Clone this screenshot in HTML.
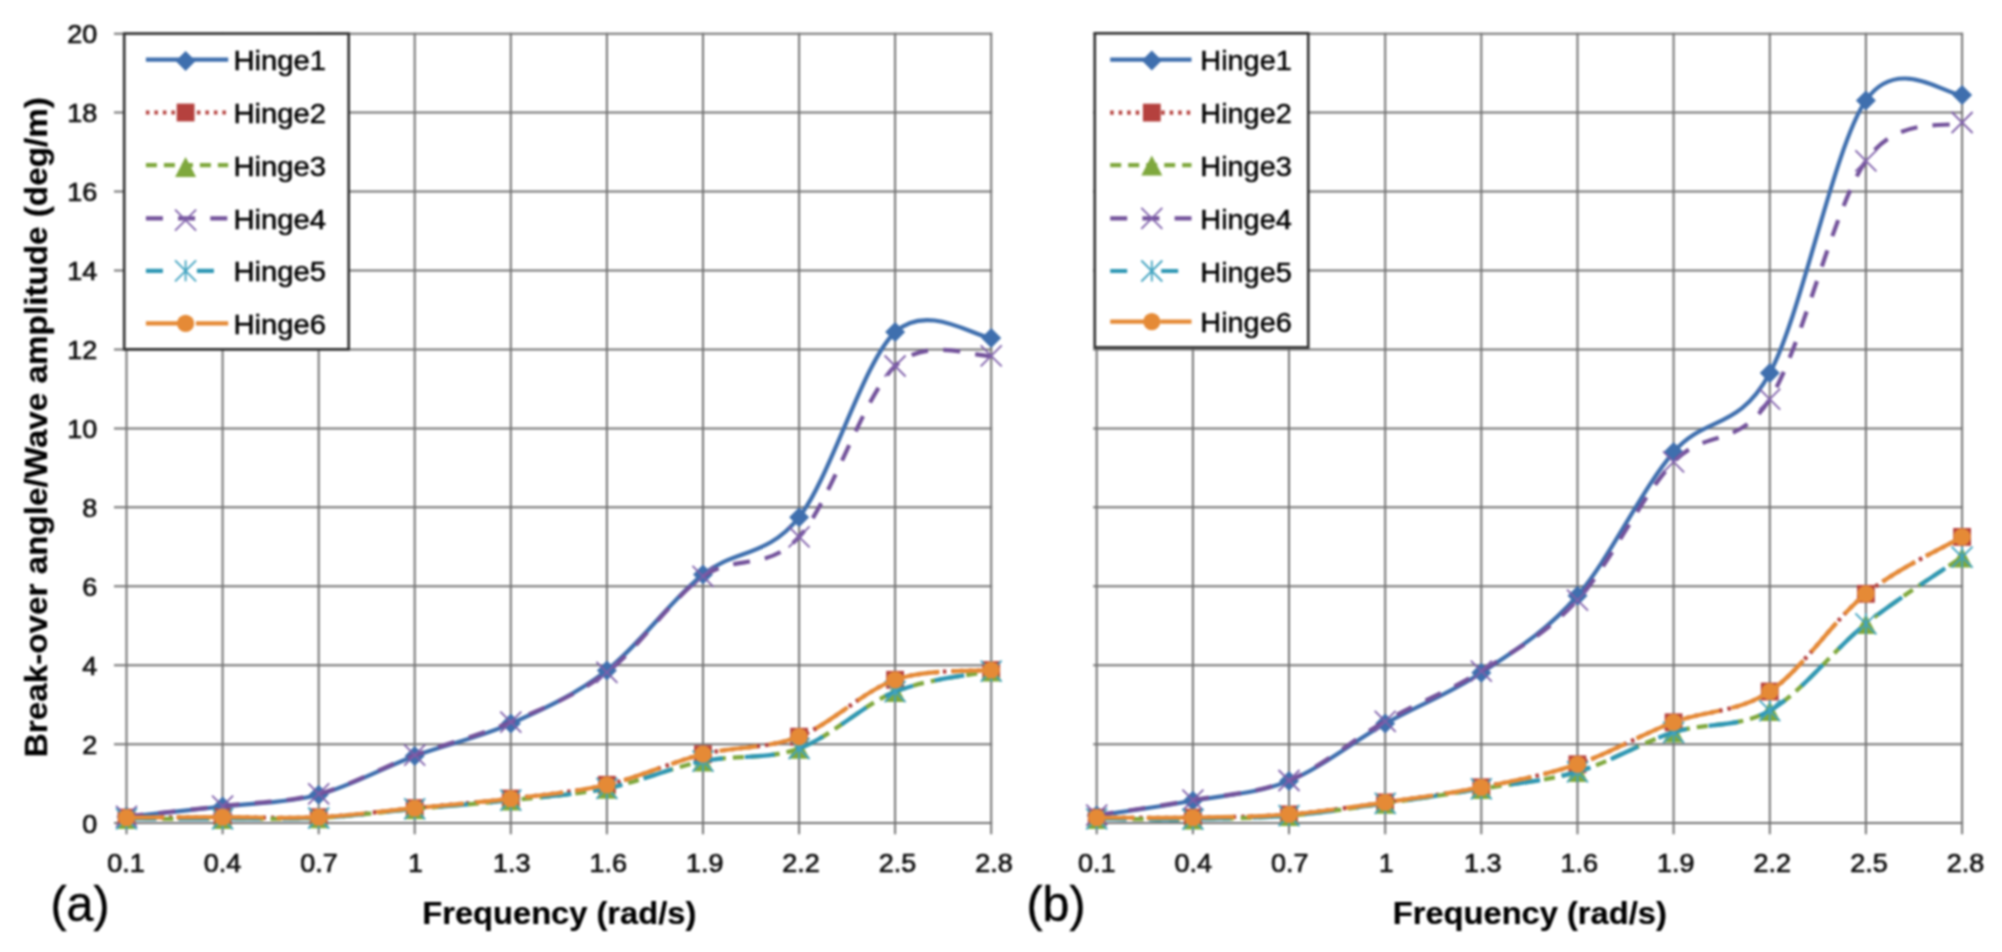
<!DOCTYPE html>
<html lang="en"><head><meta charset="utf-8"><title>Break-over angle vs frequency</title>
<style>
html,body{margin:0;padding:0;background:#fff;}
body{width:2002px;height:952px;overflow:hidden;}
svg{display:block;filter:blur(1px);}
</style></head><body>
<svg width="2002" height="952" viewBox="0 0 2002 952">
<rect width="2002" height="952" fill="#fff"/>
<g stroke="#747474" stroke-width="2" fill="none">
<path d="M114.0 823.1H992.2"/>
<path d="M114.0 744.2H992.2"/>
<path d="M114.0 665.2H992.2"/>
<path d="M114.0 586.3H992.2"/>
<path d="M114.0 507.3H992.2"/>
<path d="M114.0 428.4H992.2"/>
<path d="M114.0 349.5H992.2"/>
<path d="M114.0 270.5H992.2"/>
<path d="M114.0 191.6H992.2"/>
<path d="M114.0 112.6H992.2"/>
<path d="M114.0 33.7H992.2"/>
<path d="M126.5 32.7V834.3"/>
<path d="M222.6 32.7V834.3"/>
<path d="M318.7 32.7V834.3"/>
<path d="M414.7 32.7V834.3"/>
<path d="M510.8 32.7V834.3"/>
<path d="M606.9 32.7V834.3"/>
<path d="M703.0 32.7V834.3"/>
<path d="M799.1 32.7V834.3"/>
<path d="M895.1 32.7V834.3"/>
<path d="M991.2 32.7V834.3"/>
</g>
<path d="M126.50 816.78 C142.51 815.07 190.55 810.21 222.58 806.52 C254.61 802.84 286.63 803.10 318.66 794.68 C350.69 786.26 382.71 767.84 414.74 756.00 C446.77 744.16 478.79 737.91 510.82 723.64 C542.85 709.36 574.87 695.22 606.90 670.35 C638.93 645.49 670.95 599.96 702.98 574.44 C735.01 548.92 767.03 557.60 799.06 517.21 C831.09 476.82 863.11 361.96 895.14 332.09 C927.17 302.23 975.21 337.03 991.22 338.01" stroke="#3F6FAE" stroke-width="4.2" fill="none" stroke-linecap="butt"/>
<path d="M126.5 806.8L136.5 816.8L126.5 826.8L116.5 816.8Z" fill="#3F6FAE"/>
<path d="M222.6 796.5L232.6 806.5L222.6 816.5L212.6 806.5Z" fill="#3F6FAE"/>
<path d="M318.7 784.7L328.7 794.7L318.7 804.7L308.7 794.7Z" fill="#3F6FAE"/>
<path d="M414.7 746.0L424.7 756.0L414.7 766.0L404.7 756.0Z" fill="#3F6FAE"/>
<path d="M510.8 713.6L520.8 723.6L510.8 733.6L500.8 723.6Z" fill="#3F6FAE"/>
<path d="M606.9 660.4L616.9 670.4L606.9 680.4L596.9 670.4Z" fill="#3F6FAE"/>
<path d="M703.0 564.4L713.0 574.4L703.0 584.4L693.0 574.4Z" fill="#3F6FAE"/>
<path d="M799.1 507.2L809.1 517.2L799.1 527.2L789.1 517.2Z" fill="#3F6FAE"/>
<path d="M895.1 322.1L905.1 332.1L895.1 342.1L885.1 332.1Z" fill="#3F6FAE"/>
<path d="M991.2 328.0L1001.2 338.0L991.2 348.0L981.2 338.0Z" fill="#3F6FAE"/>
<path d="M126.50 817.57 C142.51 817.51 190.55 817.25 222.58 817.18 C254.61 817.11 286.63 818.69 318.66 817.18 C350.69 815.67 382.71 811.19 414.74 808.10 C446.77 805.01 478.79 802.51 510.82 798.63 C542.85 794.75 574.87 792.21 606.90 784.81 C638.93 777.41 670.95 762.25 702.98 754.22 C735.01 746.20 767.03 749.06 799.06 736.66 C831.09 724.26 863.11 690.94 895.14 679.82 C927.17 668.71 975.21 671.60 991.22 669.96" stroke="#B5413E" stroke-width="4.2" fill="none" stroke-linecap="butt" stroke-dasharray="3.5 5"/>
<rect x="117.6" y="808.7" width="17.8" height="17.8" fill="#B5413E"/>
<rect x="213.7" y="808.3" width="17.8" height="17.8" fill="#B5413E"/>
<rect x="309.8" y="808.3" width="17.8" height="17.8" fill="#B5413E"/>
<rect x="405.8" y="799.2" width="17.8" height="17.8" fill="#B5413E"/>
<rect x="501.9" y="789.7" width="17.8" height="17.8" fill="#B5413E"/>
<rect x="598.0" y="775.9" width="17.8" height="17.8" fill="#B5413E"/>
<rect x="694.1" y="745.3" width="17.8" height="17.8" fill="#B5413E"/>
<rect x="790.2" y="727.8" width="17.8" height="17.8" fill="#B5413E"/>
<rect x="886.2" y="670.9" width="17.8" height="17.8" fill="#B5413E"/>
<rect x="982.3" y="661.1" width="17.8" height="17.8" fill="#B5413E"/>
<path d="M126.50 818.76 C142.51 818.76 190.55 818.89 222.58 818.76 C254.61 818.63 286.63 819.61 318.66 817.97 C350.69 816.32 382.71 811.85 414.74 808.89 C446.77 805.93 478.79 803.63 510.82 800.21 C542.85 796.79 574.87 794.88 606.90 788.37 C638.93 781.85 670.95 767.78 702.98 761.13 C735.01 754.49 767.03 760.08 799.06 748.50 C831.09 736.92 863.11 704.56 895.14 691.66 C927.17 678.77 975.21 674.56 991.22 671.14" stroke="#7FA83D" stroke-width="4.2" fill="none" stroke-linecap="butt" stroke-dasharray="11 7"/>
<path d="M126.5 809.1L137.0 829.1L116.0 829.1Z" fill="#7FA83D"/>
<path d="M222.6 809.1L233.1 829.1L212.1 829.1Z" fill="#7FA83D"/>
<path d="M318.7 808.3L329.2 828.3L308.2 828.3Z" fill="#7FA83D"/>
<path d="M414.7 799.2L425.2 819.2L404.2 819.2Z" fill="#7FA83D"/>
<path d="M510.8 790.5L521.3 810.5L500.3 810.5Z" fill="#7FA83D"/>
<path d="M606.9 778.7L617.4 798.7L596.4 798.7Z" fill="#7FA83D"/>
<path d="M703.0 751.4L713.5 771.4L692.5 771.4Z" fill="#7FA83D"/>
<path d="M799.1 738.8L809.6 758.8L788.6 758.8Z" fill="#7FA83D"/>
<path d="M895.1 682.0L905.6 702.0L884.6 702.0Z" fill="#7FA83D"/>
<path d="M991.2 661.4L1001.7 681.4L980.7 681.4Z" fill="#7FA83D"/>
<path d="M126.50 816.39 C142.51 814.68 190.55 809.88 222.58 806.13 C254.61 802.38 286.63 802.38 318.66 793.89 C350.69 785.41 382.71 767.18 414.74 755.21 C446.77 743.24 478.79 735.87 510.82 722.06 C542.85 708.24 574.87 696.60 606.90 672.32 C638.93 648.05 670.95 598.98 702.98 576.41 C735.01 553.85 767.03 572.01 799.06 536.94 C831.09 501.88 863.11 396.23 895.14 366.04 C927.17 335.84 975.21 357.49 991.22 355.78" stroke="#73529B" stroke-width="4.2" fill="none" stroke-linecap="butt" stroke-dasharray="17 15.2"/>
<path d="M116.0 805.9L137.0 826.9M116.0 826.9L137.0 805.9" stroke="#7f60aa" stroke-width="1.8" fill="none"/>
<path d="M212.1 795.6L233.1 816.6M212.1 816.6L233.1 795.6" stroke="#7f60aa" stroke-width="1.8" fill="none"/>
<path d="M308.2 783.4L329.2 804.4M308.2 804.4L329.2 783.4" stroke="#7f60aa" stroke-width="1.8" fill="none"/>
<path d="M404.2 744.7L425.2 765.7M404.2 765.7L425.2 744.7" stroke="#7f60aa" stroke-width="1.8" fill="none"/>
<path d="M500.3 711.6L521.3 732.6M500.3 732.6L521.3 711.6" stroke="#7f60aa" stroke-width="1.8" fill="none"/>
<path d="M596.4 661.8L617.4 682.8M596.4 682.8L617.4 661.8" stroke="#7f60aa" stroke-width="1.8" fill="none"/>
<path d="M692.5 565.9L713.5 586.9M692.5 586.9L713.5 565.9" stroke="#7f60aa" stroke-width="1.8" fill="none"/>
<path d="M788.6 526.4L809.6 547.4M788.6 547.4L809.6 526.4" stroke="#7f60aa" stroke-width="1.8" fill="none"/>
<path d="M884.6 355.5L905.6 376.5M884.6 376.5L905.6 355.5" stroke="#7f60aa" stroke-width="1.8" fill="none"/>
<path d="M980.7 345.3L1001.7 366.3M980.7 366.3L1001.7 345.3" stroke="#7f60aa" stroke-width="1.8" fill="none"/>
<path d="M126.50 818.76 C142.51 818.76 190.55 818.89 222.58 818.76 C254.61 818.63 286.63 819.61 318.66 817.97 C350.69 816.32 382.71 811.85 414.74 808.89 C446.77 805.93 478.79 803.63 510.82 800.21 C542.85 796.79 574.87 794.88 606.90 788.37 C638.93 781.85 670.95 767.78 702.98 761.13 C735.01 754.49 767.03 760.08 799.06 748.50 C831.09 736.92 863.11 704.56 895.14 691.66 C927.17 678.77 975.21 674.56 991.22 671.14" stroke="#2F97B4" stroke-width="4.2" fill="none" stroke-linecap="butt" stroke-dasharray="30 22"/>
<path d="M116.0 808.3L137.0 829.3M116.0 829.3L137.0 808.3M126.5 808.3L126.5 829.3" stroke="#41a3c0" stroke-width="1.8" fill="none"/>
<path d="M212.1 808.3L233.1 829.3M212.1 829.3L233.1 808.3M222.6 808.3L222.6 829.3" stroke="#41a3c0" stroke-width="1.8" fill="none"/>
<path d="M308.2 807.5L329.2 828.5M308.2 828.5L329.2 807.5M318.7 807.5L318.7 828.5" stroke="#41a3c0" stroke-width="1.8" fill="none"/>
<path d="M404.2 798.4L425.2 819.4M404.2 819.4L425.2 798.4M414.7 798.4L414.7 819.4" stroke="#41a3c0" stroke-width="1.8" fill="none"/>
<path d="M500.3 789.7L521.3 810.7M500.3 810.7L521.3 789.7M510.8 789.7L510.8 810.7" stroke="#41a3c0" stroke-width="1.8" fill="none"/>
<path d="M596.4 777.9L617.4 798.9M596.4 798.9L617.4 777.9M606.9 777.9L606.9 798.9" stroke="#41a3c0" stroke-width="1.8" fill="none"/>
<path d="M692.5 750.6L713.5 771.6M692.5 771.6L713.5 750.6M703.0 750.6L703.0 771.6" stroke="#41a3c0" stroke-width="1.8" fill="none"/>
<path d="M788.6 738.0L809.6 759.0M788.6 759.0L809.6 738.0M799.1 738.0L799.1 759.0" stroke="#41a3c0" stroke-width="1.8" fill="none"/>
<path d="M884.6 681.2L905.6 702.2M884.6 702.2L905.6 681.2M895.1 681.2L895.1 702.2" stroke="#41a3c0" stroke-width="1.8" fill="none"/>
<path d="M980.7 660.6L1001.7 681.6M980.7 681.6L1001.7 660.6M991.2 660.6L991.2 681.6" stroke="#41a3c0" stroke-width="1.8" fill="none"/>
<path d="M126.50 817.57 C142.51 817.51 190.55 817.25 222.58 817.18 C254.61 817.11 286.63 818.69 318.66 817.18 C350.69 815.67 382.71 811.19 414.74 808.10 C446.77 805.01 478.79 802.51 510.82 798.63 C542.85 794.75 574.87 792.21 606.90 784.81 C638.93 777.41 670.95 762.25 702.98 754.22 C735.01 746.20 767.03 749.06 799.06 736.66 C831.09 724.26 863.11 690.94 895.14 679.82 C927.17 668.71 975.21 671.60 991.22 669.96" stroke="#E58A36" stroke-width="4.2" fill="none" stroke-linecap="butt" stroke-dasharray="38 12"/>
<circle cx="126.5" cy="817.6" r="8.6" fill="#E58A36"/>
<circle cx="222.6" cy="817.2" r="8.6" fill="#E58A36"/>
<circle cx="318.7" cy="817.2" r="8.6" fill="#E58A36"/>
<circle cx="414.7" cy="808.1" r="8.6" fill="#E58A36"/>
<circle cx="510.8" cy="798.6" r="8.6" fill="#E58A36"/>
<circle cx="606.9" cy="784.8" r="8.6" fill="#E58A36"/>
<circle cx="703.0" cy="754.2" r="8.6" fill="#E58A36"/>
<circle cx="799.1" cy="736.7" r="8.6" fill="#E58A36"/>
<circle cx="895.1" cy="679.8" r="8.6" fill="#E58A36"/>
<circle cx="991.2" cy="670.0" r="8.6" fill="#E58A36"/>
<rect x="124.20" y="33.6" width="224.5" height="315.7" fill="#fff" stroke="#2e2e2e" stroke-width="2.6"/>
<path d="M145.9 59.7H228.2" stroke="#3F6FAE" stroke-width="4.2" fill="none"/>
<path d="M185.6 51.0L195.6 61.0L185.6 71.0L175.6 61.0Z" fill="#3F6FAE"/>
<text x="233.5" y="70.3" font-family="Liberation Sans, sans-serif" font-size="28.5" fill="#000" stroke="#000" stroke-width="0.5" textLength="92.5" lengthAdjust="spacingAndGlyphs">Hinge1</text>
<path d="M145.9 112.5H228.2" stroke="#B5413E" stroke-width="4.2" fill="none" stroke-dasharray="3.5 5"/>
<rect x="176.7" y="103.6" width="17.8" height="17.8" fill="#B5413E"/>
<text x="233.5" y="123.1" font-family="Liberation Sans, sans-serif" font-size="28.5" fill="#000" stroke="#000" stroke-width="0.5" textLength="92.5" lengthAdjust="spacingAndGlyphs">Hinge2</text>
<path d="M145.9 165.2H228.2" stroke="#7FA83D" stroke-width="4.2" fill="none" stroke-dasharray="11 7"/>
<path d="M185.6 157.0L196.1 177.0L175.1 177.0Z" fill="#7FA83D"/>
<text x="233.5" y="175.8" font-family="Liberation Sans, sans-serif" font-size="28.5" fill="#000" stroke="#000" stroke-width="0.5" textLength="92.5" lengthAdjust="spacingAndGlyphs">Hinge3</text>
<path d="M145.9 218.3H228.2" stroke="#73529B" stroke-width="4.2" fill="none" stroke-dasharray="17 15.2"/>
<path d="M175.1 209.6L196.1 230.6M175.1 230.6L196.1 209.6" stroke="#7f60aa" stroke-width="1.8" fill="none"/>
<text x="233.5" y="228.9" font-family="Liberation Sans, sans-serif" font-size="28.5" fill="#000" stroke="#000" stroke-width="0.5" textLength="92.5" lengthAdjust="spacingAndGlyphs">Hinge4</text>
<path d="M145.9 270.8h17M196.9 270.8h17" stroke="#2F97B4" stroke-width="4.2" fill="none"/>
<path d="M175.1 260.3L196.1 281.3M175.1 281.3L196.1 260.3M185.6 260.3L185.6 281.3" stroke="#41a3c0" stroke-width="1.8" fill="none"/>
<text x="233.5" y="281.4" font-family="Liberation Sans, sans-serif" font-size="28.5" fill="#000" stroke="#000" stroke-width="0.5" textLength="92.5" lengthAdjust="spacingAndGlyphs">Hinge5</text>
<path d="M145.9 323.4H228.2" stroke="#E58A36" stroke-width="4.2" fill="none" stroke-dasharray="38 12"/>
<circle cx="185.6" cy="323.4" r="8.6" fill="#E58A36"/>
<text x="233.5" y="334.0" font-family="Liberation Sans, sans-serif" font-size="28.5" fill="#000" stroke="#000" stroke-width="0.5" textLength="92.5" lengthAdjust="spacingAndGlyphs">Hinge6</text>
<text x="126.0" y="872" font-family="Liberation Sans, sans-serif" font-size="26.5" fill="#0d0d0d" stroke="#0d0d0d" stroke-width="0.7" text-anchor="middle" textLength="37.5" lengthAdjust="spacingAndGlyphs">0.1</text>
<text x="222.4" y="872" font-family="Liberation Sans, sans-serif" font-size="26.5" fill="#0d0d0d" stroke="#0d0d0d" stroke-width="0.7" text-anchor="middle" textLength="37.5" lengthAdjust="spacingAndGlyphs">0.4</text>
<text x="318.9" y="872" font-family="Liberation Sans, sans-serif" font-size="26.5" fill="#0d0d0d" stroke="#0d0d0d" stroke-width="0.7" text-anchor="middle" textLength="37.5" lengthAdjust="spacingAndGlyphs">0.7</text>
<text x="415.4" y="872" font-family="Liberation Sans, sans-serif" font-size="26.5" fill="#0d0d0d" stroke="#0d0d0d" stroke-width="0.7" text-anchor="middle" textLength="14.5" lengthAdjust="spacingAndGlyphs">1</text>
<text x="511.8" y="872" font-family="Liberation Sans, sans-serif" font-size="26.5" fill="#0d0d0d" stroke="#0d0d0d" stroke-width="0.7" text-anchor="middle" textLength="37.5" lengthAdjust="spacingAndGlyphs">1.3</text>
<text x="608.2" y="872" font-family="Liberation Sans, sans-serif" font-size="26.5" fill="#0d0d0d" stroke="#0d0d0d" stroke-width="0.7" text-anchor="middle" textLength="37.5" lengthAdjust="spacingAndGlyphs">1.6</text>
<text x="704.7" y="872" font-family="Liberation Sans, sans-serif" font-size="26.5" fill="#0d0d0d" stroke="#0d0d0d" stroke-width="0.7" text-anchor="middle" textLength="37.5" lengthAdjust="spacingAndGlyphs">1.9</text>
<text x="801.1" y="872" font-family="Liberation Sans, sans-serif" font-size="26.5" fill="#0d0d0d" stroke="#0d0d0d" stroke-width="0.7" text-anchor="middle" textLength="37.5" lengthAdjust="spacingAndGlyphs">2.2</text>
<text x="897.6" y="872" font-family="Liberation Sans, sans-serif" font-size="26.5" fill="#0d0d0d" stroke="#0d0d0d" stroke-width="0.7" text-anchor="middle" textLength="37.5" lengthAdjust="spacingAndGlyphs">2.5</text>
<text x="994.1" y="872" font-family="Liberation Sans, sans-serif" font-size="26.5" fill="#0d0d0d" stroke="#0d0d0d" stroke-width="0.7" text-anchor="middle" textLength="37.5" lengthAdjust="spacingAndGlyphs">2.8</text>
<text x="559.3" y="923.9" font-family="Liberation Sans, sans-serif" font-size="30.5" font-weight="bold" fill="#000" stroke="#000" stroke-width="0.2" text-anchor="middle" textLength="274" lengthAdjust="spacingAndGlyphs">Frequency (rad/s)</text>
<g stroke="#747474" stroke-width="2" fill="none">
<path d="M1093.2 823.1H1963.1"/>
<path d="M1093.2 744.2H1963.1"/>
<path d="M1093.2 665.2H1963.1"/>
<path d="M1093.2 586.3H1963.1"/>
<path d="M1093.2 507.3H1963.1"/>
<path d="M1093.2 428.4H1963.1"/>
<path d="M1093.2 349.5H1963.1"/>
<path d="M1093.2 270.5H1963.1"/>
<path d="M1093.2 191.6H1963.1"/>
<path d="M1093.2 112.6H1963.1"/>
<path d="M1093.2 33.7H1963.1"/>
<path d="M1096.7 32.7V834.3"/>
<path d="M1192.9 32.7V834.3"/>
<path d="M1289.0 32.7V834.3"/>
<path d="M1385.2 32.7V834.3"/>
<path d="M1481.3 32.7V834.3"/>
<path d="M1577.5 32.7V834.3"/>
<path d="M1673.6 32.7V834.3"/>
<path d="M1769.8 32.7V834.3"/>
<path d="M1865.9 32.7V834.3"/>
<path d="M1962.1 32.7V834.3"/>
</g>
<path d="M1096.70 815.60 C1112.73 813.13 1160.80 806.59 1192.85 800.80 C1224.90 795.01 1256.95 793.73 1289.00 780.87 C1321.05 768.01 1353.10 741.66 1385.15 723.64 C1417.20 705.61 1449.25 694.03 1481.30 672.72 C1513.35 651.41 1545.40 632.53 1577.45 595.75 C1609.50 558.98 1641.55 489.18 1673.60 452.08 C1705.65 414.98 1737.70 431.75 1769.75 373.14 C1801.80 314.53 1833.85 146.78 1865.90 100.40 C1897.95 54.03 1946.03 95.80 1962.05 94.88" stroke="#3F6FAE" stroke-width="4.2" fill="none" stroke-linecap="butt"/>
<path d="M1096.7 805.6L1106.7 815.6L1096.7 825.6L1086.7 815.6Z" fill="#3F6FAE"/>
<path d="M1192.9 790.8L1202.9 800.8L1192.9 810.8L1182.9 800.8Z" fill="#3F6FAE"/>
<path d="M1289.0 770.9L1299.0 780.9L1289.0 790.9L1279.0 780.9Z" fill="#3F6FAE"/>
<path d="M1385.2 713.6L1395.2 723.6L1385.2 733.6L1375.2 723.6Z" fill="#3F6FAE"/>
<path d="M1481.3 662.7L1491.3 672.7L1481.3 682.7L1471.3 672.7Z" fill="#3F6FAE"/>
<path d="M1577.5 585.8L1587.5 595.8L1577.5 605.8L1567.5 595.8Z" fill="#3F6FAE"/>
<path d="M1673.6 442.1L1683.6 452.1L1673.6 462.1L1663.6 452.1Z" fill="#3F6FAE"/>
<path d="M1769.8 363.1L1779.8 373.1L1769.8 383.1L1759.8 373.1Z" fill="#3F6FAE"/>
<path d="M1865.9 90.4L1875.9 100.4L1865.9 110.4L1855.9 100.4Z" fill="#3F6FAE"/>
<path d="M1962.1 84.9L1972.1 94.9L1962.1 104.9L1952.1 94.9Z" fill="#3F6FAE"/>
<path d="M1096.70 817.57 C1112.73 817.57 1160.80 818.10 1192.85 817.57 C1224.90 817.05 1256.95 816.95 1289.00 814.42 C1321.05 811.88 1353.10 806.90 1385.15 802.38 C1417.20 797.86 1449.25 793.65 1481.30 787.30 C1513.35 780.95 1545.40 775.13 1577.45 764.29 C1609.50 753.45 1641.55 734.39 1673.60 722.25 C1705.65 710.12 1737.70 712.88 1769.75 691.47 C1801.80 670.06 1833.85 619.53 1865.90 593.78 C1897.95 568.03 1946.03 546.42 1962.05 536.94" stroke="#B5413E" stroke-width="4.2" fill="none" stroke-linecap="butt" stroke-dasharray="3.5 5"/>
<rect x="1087.8" y="808.7" width="17.8" height="17.8" fill="#B5413E"/>
<rect x="1184.0" y="808.7" width="17.8" height="17.8" fill="#B5413E"/>
<rect x="1280.1" y="805.5" width="17.8" height="17.8" fill="#B5413E"/>
<rect x="1376.2" y="793.5" width="17.8" height="17.8" fill="#B5413E"/>
<rect x="1472.4" y="778.4" width="17.8" height="17.8" fill="#B5413E"/>
<rect x="1568.5" y="755.4" width="17.8" height="17.8" fill="#B5413E"/>
<rect x="1664.7" y="713.4" width="17.8" height="17.8" fill="#B5413E"/>
<rect x="1760.8" y="682.6" width="17.8" height="17.8" fill="#B5413E"/>
<rect x="1857.0" y="584.9" width="17.8" height="17.8" fill="#B5413E"/>
<rect x="1953.2" y="528.0" width="17.8" height="17.8" fill="#B5413E"/>
<path d="M1096.70 818.76 C1112.73 818.82 1160.80 819.68 1192.85 819.15 C1224.90 818.63 1256.95 818.23 1289.00 815.60 C1321.05 812.97 1353.10 807.84 1385.15 803.37 C1417.20 798.89 1449.25 794.02 1481.30 788.76 C1513.35 783.50 1545.40 781.20 1577.45 771.79 C1609.50 762.38 1641.55 742.52 1673.60 732.32 C1705.65 722.12 1737.70 728.70 1769.75 710.61 C1801.80 692.52 1833.85 649.37 1865.90 623.78 C1897.95 598.19 1946.03 568.19 1962.05 557.07" stroke="#7FA83D" stroke-width="4.2" fill="none" stroke-linecap="butt" stroke-dasharray="11 7"/>
<path d="M1096.7 809.1L1107.2 829.1L1086.2 829.1Z" fill="#7FA83D"/>
<path d="M1192.9 809.5L1203.4 829.5L1182.4 829.5Z" fill="#7FA83D"/>
<path d="M1289.0 805.9L1299.5 825.9L1278.5 825.9Z" fill="#7FA83D"/>
<path d="M1385.2 793.7L1395.7 813.7L1374.7 813.7Z" fill="#7FA83D"/>
<path d="M1481.3 779.1L1491.8 799.1L1470.8 799.1Z" fill="#7FA83D"/>
<path d="M1577.5 762.1L1588.0 782.1L1567.0 782.1Z" fill="#7FA83D"/>
<path d="M1673.6 722.6L1684.1 742.6L1663.1 742.6Z" fill="#7FA83D"/>
<path d="M1769.8 700.9L1780.2 720.9L1759.2 720.9Z" fill="#7FA83D"/>
<path d="M1865.9 614.1L1876.4 634.1L1855.4 634.1Z" fill="#7FA83D"/>
<path d="M1962.1 547.4L1972.6 567.4L1951.6 567.4Z" fill="#7FA83D"/>
<path d="M1096.70 815.21 C1112.73 812.71 1160.80 806.00 1192.85 800.21 C1224.90 794.42 1256.95 793.63 1289.00 780.47 C1321.05 767.32 1353.10 739.49 1385.15 721.27 C1417.20 703.05 1449.25 691.34 1481.30 671.14 C1513.35 650.95 1545.40 634.96 1577.45 600.09 C1609.50 565.23 1641.55 495.43 1673.60 461.95 C1705.65 428.47 1737.70 449.38 1769.75 399.19 C1801.80 349.00 1833.85 206.91 1865.90 160.79 C1897.95 114.68 1946.03 128.89 1962.05 122.51" stroke="#73529B" stroke-width="4.2" fill="none" stroke-linecap="butt" stroke-dasharray="17 15.2"/>
<path d="M1086.2 804.7L1107.2 825.7M1086.2 825.7L1107.2 804.7" stroke="#7f60aa" stroke-width="1.8" fill="none"/>
<path d="M1182.4 789.7L1203.4 810.7M1182.4 810.7L1203.4 789.7" stroke="#7f60aa" stroke-width="1.8" fill="none"/>
<path d="M1278.5 770.0L1299.5 791.0M1278.5 791.0L1299.5 770.0" stroke="#7f60aa" stroke-width="1.8" fill="none"/>
<path d="M1374.7 710.8L1395.7 731.8M1374.7 731.8L1395.7 710.8" stroke="#7f60aa" stroke-width="1.8" fill="none"/>
<path d="M1470.8 660.6L1491.8 681.6M1470.8 681.6L1491.8 660.6" stroke="#7f60aa" stroke-width="1.8" fill="none"/>
<path d="M1567.0 589.6L1588.0 610.6M1567.0 610.6L1588.0 589.6" stroke="#7f60aa" stroke-width="1.8" fill="none"/>
<path d="M1663.1 451.4L1684.1 472.4M1663.1 472.4L1684.1 451.4" stroke="#7f60aa" stroke-width="1.8" fill="none"/>
<path d="M1759.2 388.7L1780.2 409.7M1759.2 409.7L1780.2 388.7" stroke="#7f60aa" stroke-width="1.8" fill="none"/>
<path d="M1855.4 150.3L1876.4 171.3M1855.4 171.3L1876.4 150.3" stroke="#7f60aa" stroke-width="1.8" fill="none"/>
<path d="M1951.6 112.0L1972.6 133.0M1951.6 133.0L1972.6 112.0" stroke="#7f60aa" stroke-width="1.8" fill="none"/>
<path d="M1096.70 818.76 C1112.73 818.82 1160.80 819.68 1192.85 819.15 C1224.90 818.63 1256.95 818.23 1289.00 815.60 C1321.05 812.97 1353.10 807.84 1385.15 803.37 C1417.20 798.89 1449.25 794.02 1481.30 788.76 C1513.35 783.50 1545.40 781.20 1577.45 771.79 C1609.50 762.38 1641.55 742.52 1673.60 732.32 C1705.65 722.12 1737.70 728.70 1769.75 710.61 C1801.80 692.52 1833.85 649.37 1865.90 623.78 C1897.95 598.19 1946.03 568.19 1962.05 557.07" stroke="#2F97B4" stroke-width="4.2" fill="none" stroke-linecap="butt" stroke-dasharray="30 22"/>
<path d="M1086.2 808.3L1107.2 829.3M1086.2 829.3L1107.2 808.3M1096.7 808.3L1096.7 829.3" stroke="#41a3c0" stroke-width="1.8" fill="none"/>
<path d="M1182.4 808.7L1203.4 829.7M1182.4 829.7L1203.4 808.7M1192.9 808.7L1192.9 829.7" stroke="#41a3c0" stroke-width="1.8" fill="none"/>
<path d="M1278.5 805.1L1299.5 826.1M1278.5 826.1L1299.5 805.1M1289.0 805.1L1289.0 826.1" stroke="#41a3c0" stroke-width="1.8" fill="none"/>
<path d="M1374.7 792.9L1395.7 813.9M1374.7 813.9L1395.7 792.9M1385.2 792.9L1385.2 813.9" stroke="#41a3c0" stroke-width="1.8" fill="none"/>
<path d="M1470.8 778.3L1491.8 799.3M1470.8 799.3L1491.8 778.3M1481.3 778.3L1481.3 799.3" stroke="#41a3c0" stroke-width="1.8" fill="none"/>
<path d="M1567.0 761.3L1588.0 782.3M1567.0 782.3L1588.0 761.3M1577.5 761.3L1577.5 782.3" stroke="#41a3c0" stroke-width="1.8" fill="none"/>
<path d="M1663.1 721.8L1684.1 742.8M1663.1 742.8L1684.1 721.8M1673.6 721.8L1673.6 742.8" stroke="#41a3c0" stroke-width="1.8" fill="none"/>
<path d="M1759.2 700.1L1780.2 721.1M1759.2 721.1L1780.2 700.1M1769.8 700.1L1769.8 721.1" stroke="#41a3c0" stroke-width="1.8" fill="none"/>
<path d="M1855.4 613.3L1876.4 634.3M1855.4 634.3L1876.4 613.3M1865.9 613.3L1865.9 634.3" stroke="#41a3c0" stroke-width="1.8" fill="none"/>
<path d="M1951.6 546.6L1972.6 567.6M1951.6 567.6L1972.6 546.6M1962.1 546.6L1962.1 567.6" stroke="#41a3c0" stroke-width="1.8" fill="none"/>
<path d="M1096.70 817.57 C1112.73 817.57 1160.80 818.10 1192.85 817.57 C1224.90 817.05 1256.95 816.95 1289.00 814.42 C1321.05 811.88 1353.10 806.90 1385.15 802.38 C1417.20 797.86 1449.25 793.65 1481.30 787.30 C1513.35 780.95 1545.40 775.13 1577.45 764.29 C1609.50 753.45 1641.55 734.39 1673.60 722.25 C1705.65 710.12 1737.70 712.88 1769.75 691.47 C1801.80 670.06 1833.85 619.53 1865.90 593.78 C1897.95 568.03 1946.03 546.42 1962.05 536.94" stroke="#E58A36" stroke-width="4.2" fill="none" stroke-linecap="butt" stroke-dasharray="38 12"/>
<circle cx="1096.7" cy="817.6" r="8.6" fill="#E58A36"/>
<circle cx="1192.9" cy="817.6" r="8.6" fill="#E58A36"/>
<circle cx="1289.0" cy="814.4" r="8.6" fill="#E58A36"/>
<circle cx="1385.2" cy="802.4" r="8.6" fill="#E58A36"/>
<circle cx="1481.3" cy="787.3" r="8.6" fill="#E58A36"/>
<circle cx="1577.5" cy="764.3" r="8.6" fill="#E58A36"/>
<circle cx="1673.6" cy="722.3" r="8.6" fill="#E58A36"/>
<circle cx="1769.8" cy="691.5" r="8.6" fill="#E58A36"/>
<circle cx="1865.9" cy="593.8" r="8.6" fill="#E58A36"/>
<circle cx="1962.1" cy="536.9" r="8.6" fill="#E58A36"/>
<rect x="1094.75" y="33.3" width="213.5" height="314.1" fill="#fff" stroke="#2e2e2e" stroke-width="2.6"/>
<path d="M1110.2 59.7H1191.5" stroke="#3F6FAE" stroke-width="4.2" fill="none"/>
<path d="M1151.8 50.5L1161.8 60.5L1151.8 70.5L1141.8 60.5Z" fill="#3F6FAE"/>
<text x="1200.3" y="70.3" font-family="Liberation Sans, sans-serif" font-size="28.5" fill="#000" stroke="#000" stroke-width="0.5" textLength="91.5" lengthAdjust="spacingAndGlyphs">Hinge1</text>
<path d="M1110.2 112.6H1191.5" stroke="#B5413E" stroke-width="4.2" fill="none" stroke-dasharray="3.5 5"/>
<rect x="1142.9" y="103.7" width="17.8" height="17.8" fill="#B5413E"/>
<text x="1200.3" y="123.2" font-family="Liberation Sans, sans-serif" font-size="28.5" fill="#000" stroke="#000" stroke-width="0.5" textLength="91.5" lengthAdjust="spacingAndGlyphs">Hinge2</text>
<path d="M1110.2 165.2H1191.5" stroke="#7FA83D" stroke-width="4.2" fill="none" stroke-dasharray="11 7"/>
<path d="M1151.8 155.5L1162.3 175.5L1141.3 175.5Z" fill="#7FA83D"/>
<text x="1200.3" y="175.8" font-family="Liberation Sans, sans-serif" font-size="28.5" fill="#000" stroke="#000" stroke-width="0.5" textLength="91.5" lengthAdjust="spacingAndGlyphs">Hinge3</text>
<path d="M1110.2 218.4H1191.5" stroke="#73529B" stroke-width="4.2" fill="none" stroke-dasharray="17 15.2"/>
<path d="M1141.3 207.9L1162.3 228.9M1141.3 228.9L1162.3 207.9" stroke="#7f60aa" stroke-width="1.8" fill="none"/>
<text x="1200.3" y="229.0" font-family="Liberation Sans, sans-serif" font-size="28.5" fill="#000" stroke="#000" stroke-width="0.5" textLength="91.5" lengthAdjust="spacingAndGlyphs">Hinge4</text>
<path d="M1110.2 271.0h17M1161.2 271.0h17" stroke="#2F97B4" stroke-width="4.2" fill="none"/>
<path d="M1141.3 260.5L1162.3 281.5M1141.3 281.5L1162.3 260.5M1151.8 260.5L1151.8 281.5" stroke="#41a3c0" stroke-width="1.8" fill="none"/>
<text x="1200.3" y="281.6" font-family="Liberation Sans, sans-serif" font-size="28.5" fill="#000" stroke="#000" stroke-width="0.5" textLength="91.5" lengthAdjust="spacingAndGlyphs">Hinge5</text>
<path d="M1110.2 321.6H1191.5" stroke="#E58A36" stroke-width="4.2" fill="none" stroke-dasharray="38 12"/>
<circle cx="1151.8" cy="321.6" r="8.6" fill="#E58A36"/>
<text x="1200.3" y="332.2" font-family="Liberation Sans, sans-serif" font-size="28.5" fill="#000" stroke="#000" stroke-width="0.5" textLength="91.5" lengthAdjust="spacingAndGlyphs">Hinge6</text>
<text x="1096.7" y="872" font-family="Liberation Sans, sans-serif" font-size="26.5" fill="#0d0d0d" stroke="#0d0d0d" stroke-width="0.7" text-anchor="middle" textLength="37.5" lengthAdjust="spacingAndGlyphs">0.1</text>
<text x="1193.2" y="872" font-family="Liberation Sans, sans-serif" font-size="26.5" fill="#0d0d0d" stroke="#0d0d0d" stroke-width="0.7" text-anchor="middle" textLength="37.5" lengthAdjust="spacingAndGlyphs">0.4</text>
<text x="1289.7" y="872" font-family="Liberation Sans, sans-serif" font-size="26.5" fill="#0d0d0d" stroke="#0d0d0d" stroke-width="0.7" text-anchor="middle" textLength="37.5" lengthAdjust="spacingAndGlyphs">0.7</text>
<text x="1386.3" y="872" font-family="Liberation Sans, sans-serif" font-size="26.5" fill="#0d0d0d" stroke="#0d0d0d" stroke-width="0.7" text-anchor="middle" textLength="14.5" lengthAdjust="spacingAndGlyphs">1</text>
<text x="1482.8" y="872" font-family="Liberation Sans, sans-serif" font-size="26.5" fill="#0d0d0d" stroke="#0d0d0d" stroke-width="0.7" text-anchor="middle" textLength="37.5" lengthAdjust="spacingAndGlyphs">1.3</text>
<text x="1579.3" y="872" font-family="Liberation Sans, sans-serif" font-size="26.5" fill="#0d0d0d" stroke="#0d0d0d" stroke-width="0.7" text-anchor="middle" textLength="37.5" lengthAdjust="spacingAndGlyphs">1.6</text>
<text x="1675.8" y="872" font-family="Liberation Sans, sans-serif" font-size="26.5" fill="#0d0d0d" stroke="#0d0d0d" stroke-width="0.7" text-anchor="middle" textLength="37.5" lengthAdjust="spacingAndGlyphs">1.9</text>
<text x="1772.3" y="872" font-family="Liberation Sans, sans-serif" font-size="26.5" fill="#0d0d0d" stroke="#0d0d0d" stroke-width="0.7" text-anchor="middle" textLength="37.5" lengthAdjust="spacingAndGlyphs">2.2</text>
<text x="1868.9" y="872" font-family="Liberation Sans, sans-serif" font-size="26.5" fill="#0d0d0d" stroke="#0d0d0d" stroke-width="0.7" text-anchor="middle" textLength="37.5" lengthAdjust="spacingAndGlyphs">2.5</text>
<text x="1965.4" y="872" font-family="Liberation Sans, sans-serif" font-size="26.5" fill="#0d0d0d" stroke="#0d0d0d" stroke-width="0.7" text-anchor="middle" textLength="37.5" lengthAdjust="spacingAndGlyphs">2.8</text>
<text x="1529.8" y="923.9" font-family="Liberation Sans, sans-serif" font-size="30.5" font-weight="bold" fill="#000" stroke="#000" stroke-width="0.2" text-anchor="middle" textLength="274" lengthAdjust="spacingAndGlyphs">Frequency (rad/s)</text>
<text x="97.2" y="832.8" font-family="Liberation Sans, sans-serif" font-size="26.5" fill="#0d0d0d" stroke="#0d0d0d" stroke-width="0.7" text-anchor="end" textLength="15" lengthAdjust="spacingAndGlyphs">0</text>
<text x="97.2" y="753.9" font-family="Liberation Sans, sans-serif" font-size="26.5" fill="#0d0d0d" stroke="#0d0d0d" stroke-width="0.7" text-anchor="end" textLength="15" lengthAdjust="spacingAndGlyphs">2</text>
<text x="97.2" y="674.9" font-family="Liberation Sans, sans-serif" font-size="26.5" fill="#0d0d0d" stroke="#0d0d0d" stroke-width="0.7" text-anchor="end" textLength="15" lengthAdjust="spacingAndGlyphs">4</text>
<text x="97.2" y="596.0" font-family="Liberation Sans, sans-serif" font-size="26.5" fill="#0d0d0d" stroke="#0d0d0d" stroke-width="0.7" text-anchor="end" textLength="15" lengthAdjust="spacingAndGlyphs">6</text>
<text x="97.2" y="517.0" font-family="Liberation Sans, sans-serif" font-size="26.5" fill="#0d0d0d" stroke="#0d0d0d" stroke-width="0.7" text-anchor="end" textLength="15" lengthAdjust="spacingAndGlyphs">8</text>
<text x="97.2" y="438.1" font-family="Liberation Sans, sans-serif" font-size="26.5" fill="#0d0d0d" stroke="#0d0d0d" stroke-width="0.7" text-anchor="end" textLength="30" lengthAdjust="spacingAndGlyphs">10</text>
<text x="97.2" y="359.2" font-family="Liberation Sans, sans-serif" font-size="26.5" fill="#0d0d0d" stroke="#0d0d0d" stroke-width="0.7" text-anchor="end" textLength="30" lengthAdjust="spacingAndGlyphs">12</text>
<text x="97.2" y="280.2" font-family="Liberation Sans, sans-serif" font-size="26.5" fill="#0d0d0d" stroke="#0d0d0d" stroke-width="0.7" text-anchor="end" textLength="30" lengthAdjust="spacingAndGlyphs">14</text>
<text x="97.2" y="201.3" font-family="Liberation Sans, sans-serif" font-size="26.5" fill="#0d0d0d" stroke="#0d0d0d" stroke-width="0.7" text-anchor="end" textLength="30" lengthAdjust="spacingAndGlyphs">16</text>
<text x="97.2" y="122.3" font-family="Liberation Sans, sans-serif" font-size="26.5" fill="#0d0d0d" stroke="#0d0d0d" stroke-width="0.7" text-anchor="end" textLength="30" lengthAdjust="spacingAndGlyphs">18</text>
<text x="97.2" y="43.4" font-family="Liberation Sans, sans-serif" font-size="26.5" fill="#0d0d0d" stroke="#0d0d0d" stroke-width="0.7" text-anchor="end" textLength="30" lengthAdjust="spacingAndGlyphs">20</text>
<text transform="translate(47.0 427.2) rotate(-90)" font-family="Liberation Sans, sans-serif" font-size="30.5" font-weight="bold" fill="#000" stroke="#000" stroke-width="0.2" text-anchor="middle" textLength="660" lengthAdjust="spacingAndGlyphs">Break-over angle/Wave amplitude (deg/m)</text>
<text x="50.5" y="921.2" font-family="Liberation Sans, sans-serif" font-size="50" fill="#000" stroke="#000" stroke-width="0.4" textLength="59" lengthAdjust="spacingAndGlyphs">(a)</text>
<text x="1026.5" y="921.2" font-family="Liberation Sans, sans-serif" font-size="50" fill="#000" stroke="#000" stroke-width="0.4" textLength="59" lengthAdjust="spacingAndGlyphs">(b)</text>
</svg>
</body></html>
